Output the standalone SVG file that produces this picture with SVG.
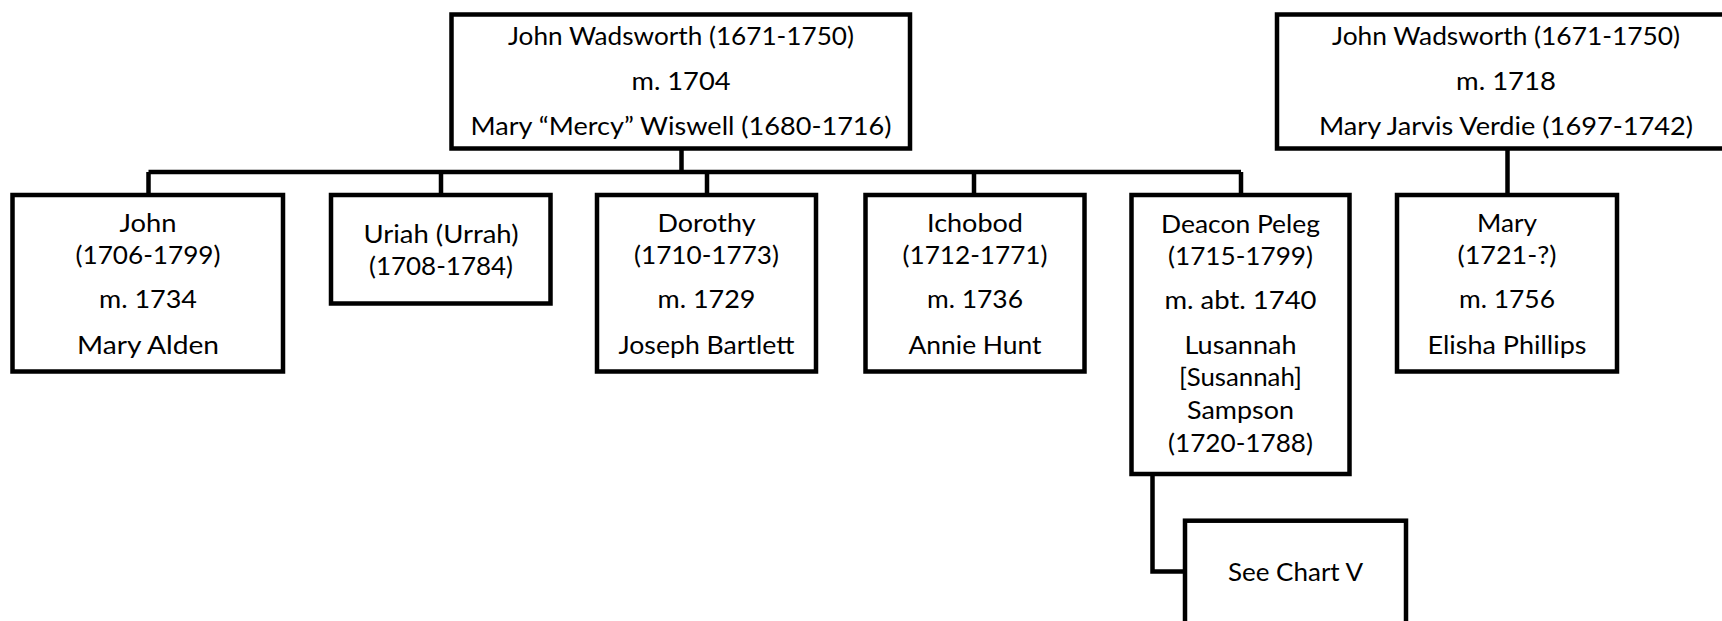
<svg xmlns="http://www.w3.org/2000/svg" width="1722" height="621" viewBox="0 0 1722 621">
<style>
.box{fill:#fff;stroke:#000;stroke-width:4.5}
.con{fill:none;stroke:#000;stroke-width:4.5}
text{font-family:Lato,"Open Sans","Liberation Sans",sans-serif;font-size:25.5px;fill:#000;text-anchor:middle}
</style>
<rect width="1722" height="621" fill="#fff"/>
<g id="connectors">
<path class="con" d="M681.5 148.5V172M148.5 172H1241M148.5 172V195M441 172V195M707 172V195M974 172V195M1241 172V195"/>
<path class="con" d="M1507.5 148.5V195"/>
<path class="con" d="M1152.5 474V571.5H1185"/>
</g>
<g id="parents1">
<rect class="box" x="451.5" y="14.5" width="458.5" height="134"/>
<text x="681" y="44.5" textLength="346" lengthAdjust="spacingAndGlyphs">John Wadsworth (1671-1750)</text>
<text x="681" y="89.5" textLength="99" lengthAdjust="spacingAndGlyphs">m. 1704</text>
<text x="681" y="134.5" textLength="421" lengthAdjust="spacingAndGlyphs">Mary “Mercy” Wiswell (1680-1716)</text>
</g>
<g id="parents2">
<rect class="box" x="1277" y="14.5" width="460" height="134"/>
<text x="1506" y="45" textLength="348" lengthAdjust="spacingAndGlyphs">John Wadsworth (1671-1750)</text>
<text x="1506" y="90" textLength="100" lengthAdjust="spacingAndGlyphs">m. 1718</text>
<text x="1506" y="135" textLength="374" lengthAdjust="spacingAndGlyphs">Mary Jarvis Verdie (1697-1742)</text>
</g>
<g id="john">
<rect class="box" x="12.5" y="195" width="270.5" height="176.5"/>
<text x="148" y="232" textLength="57" lengthAdjust="spacingAndGlyphs">John</text>
<text x="148" y="264" textLength="145" lengthAdjust="spacingAndGlyphs">(1706-1799)</text>
<text x="148" y="308" textLength="98" lengthAdjust="spacingAndGlyphs">m. 1734</text>
<text x="148" y="354" textLength="142" lengthAdjust="spacingAndGlyphs">Mary Alden</text>
</g>
<g id="uriah">
<rect class="box" x="331" y="195" width="219.5" height="108.5"/>
<text x="441" y="242.5" textLength="155" lengthAdjust="spacingAndGlyphs">Uriah (Urrah)</text>
<text x="441" y="275" textLength="144" lengthAdjust="spacingAndGlyphs">(1708-1784)</text>
</g>
<g id="dorothy">
<rect class="box" x="597" y="195" width="219" height="176.5"/>
<text x="706.5" y="232" textLength="98" lengthAdjust="spacingAndGlyphs">Dorothy</text>
<text x="706.5" y="264" textLength="145" lengthAdjust="spacingAndGlyphs">(1710-1773)</text>
<text x="706.5" y="308" textLength="98" lengthAdjust="spacingAndGlyphs">m. 1729</text>
<text x="706.5" y="354" textLength="176" lengthAdjust="spacingAndGlyphs">Joseph Bartlett</text>
</g>
<g id="ichobod">
<rect class="box" x="865.5" y="195" width="219" height="176.5"/>
<text x="975" y="232" textLength="96" lengthAdjust="spacingAndGlyphs">Ichobod</text>
<text x="975" y="264" textLength="145" lengthAdjust="spacingAndGlyphs">(1712-1771)</text>
<text x="975" y="308" textLength="96" lengthAdjust="spacingAndGlyphs">m. 1736</text>
<text x="975" y="354" textLength="133" lengthAdjust="spacingAndGlyphs">Annie Hunt</text>
</g>
<g id="peleg">
<rect class="box" x="1131.5" y="195" width="218" height="279"/>
<text x="1240.5" y="233" textLength="159" lengthAdjust="spacingAndGlyphs">Deacon Peleg</text>
<text x="1240.5" y="265" textLength="145" lengthAdjust="spacingAndGlyphs">(1715-1799)</text>
<text x="1240.5" y="309" textLength="152" lengthAdjust="spacingAndGlyphs">m. abt. 1740</text>
<text x="1240.5" y="354" textLength="112" lengthAdjust="spacingAndGlyphs">Lusannah</text>
<text x="1240.5" y="386" textLength="123" lengthAdjust="spacingAndGlyphs">[Susannah]</text>
<text x="1240.5" y="419" textLength="107" lengthAdjust="spacingAndGlyphs">Sampson</text>
<text x="1240.5" y="452" textLength="145" lengthAdjust="spacingAndGlyphs">(1720-1788)</text>
</g>
<g id="mary">
<rect class="box" x="1397" y="195" width="220" height="176.5"/>
<text x="1507" y="232" textLength="60" lengthAdjust="spacingAndGlyphs">Mary</text>
<text x="1507" y="264" textLength="99" lengthAdjust="spacingAndGlyphs">(1721-?)</text>
<text x="1507" y="308" textLength="96" lengthAdjust="spacingAndGlyphs">m. 1756</text>
<text x="1507" y="354" textLength="159" lengthAdjust="spacingAndGlyphs">Elisha Phillips</text>
</g>
<g id="chartV">
<rect class="box" x="1185" y="520.7" width="221" height="120"/>
<text x="1295.5" y="581" textLength="135" lengthAdjust="spacingAndGlyphs">See Chart V</text>
</g>
</svg>
